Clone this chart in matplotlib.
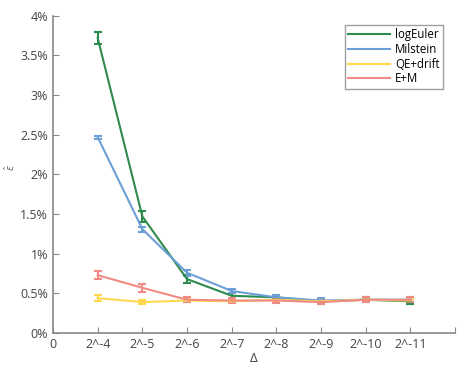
import matplotlib
matplotlib.use('Agg')
import matplotlib.pyplot as plt
from matplotlib.lines import Line2D
from matplotlib.ticker import FuncFormatter

plt.rcParams['font.family'] = ['Open Sans', 'DejaVu Sans']

# step sizes and error estimates (in %)
steps = ['2^-4', '2^-5', '2^-6', '2^-7', '2^-8', '2^-9', '2^-10', '2^-11']
log_euler = [3.72, 1.47, 0.68, 0.47, 0.45, 0.40, 0.42, 0.40]
log_euler_err = [0.07, 0.07, 0.05, 0.03, 0.03, 0.03, 0.03, 0.03]
milstein = [2.47, 1.31, 0.76, 0.53, 0.45, 0.41, 0.42, 0.42]
milstein_err = [0.02, 0.03, 0.04, 0.03, 0.03, 0.03, 0.03, 0.03]
qe_drift = [0.44, 0.39, 0.41, 0.40, 0.42, 0.40, 0.42, 0.41]
qe_drift_err = [0.04, 0.03, 0.02, 0.02, 0.02, 0.02, 0.02, 0.02]
e_m = [0.73, 0.57, 0.42, 0.41, 0.41, 0.39, 0.42, 0.42]
e_m_err = [0.05, 0.05, 0.03, 0.03, 0.03, 0.03, 0.03, 0.03]

series = [
    ('logEuler', log_euler, log_euler_err, '#2e8b4e'),
    ('Milstein', milstein, milstein_err, '#6b9fd6'),
    ('QE+drift', qe_drift, qe_drift_err, '#ffd84d'),
    ('E+M', e_m, e_m_err, '#f08a84'),
]

fig = plt.figure(figsize=(4.57, 3.68), dpi=100)
ax = fig.add_axes([0.116, 0.095, 0.88, 0.862])

x = range(1, len(steps) + 1)
handles = []
for name, vals, err, col in series:
    ax.errorbar(x, vals, yerr=err, color=col, lw=1.5, capsize=3,
                elinewidth=1.5, capthick=1.5)
    handles.append(Line2D([], [], color=col, lw=1.5, label=name))

ax.set_xlim(0, 9)
ax.set_ylim(0, 4)
ax.set_xticks(range(0, 10))
ax.set_xticklabels(['0'] + steps + [''])
ax.set_yticks([0, 0.5, 1, 1.5, 2, 2.5, 3, 3.5, 4])
ax.yaxis.set_major_formatter(FuncFormatter(lambda v, p: '%g%%' % v))

for s in ['top', 'right']:
    ax.spines[s].set_visible(False)
for s in ['left', 'bottom']:
    ax.spines[s].set_color('#888888')
    ax.spines[s].set_linewidth(1.2)
ax.tick_params(direction='in', length=4, color='#888888', labelcolor='#444444',
               labelsize=9)

ax.set_xlabel('Δ', fontsize=9.5, color='#444444', labelpad=1)
fig.text(0.024, 0.545, r'$\hat{\varepsilon}$', rotation=90, fontsize=7,
         color='#666666', ha='center', va='center')

leg = ax.legend(handles=handles, loc='upper right',
                bbox_to_anchor=(0.985, 0.99), fontsize=8.3,
                frameon=True, fancybox=False, handlelength=3.6,
                borderpad=0.3, labelspacing=0.15, handletextpad=0.5)
leg.get_frame().set_edgecolor('#888888')
leg.get_frame().set_linewidth(1.0)

fig.savefig('out.png', dpi=100)
